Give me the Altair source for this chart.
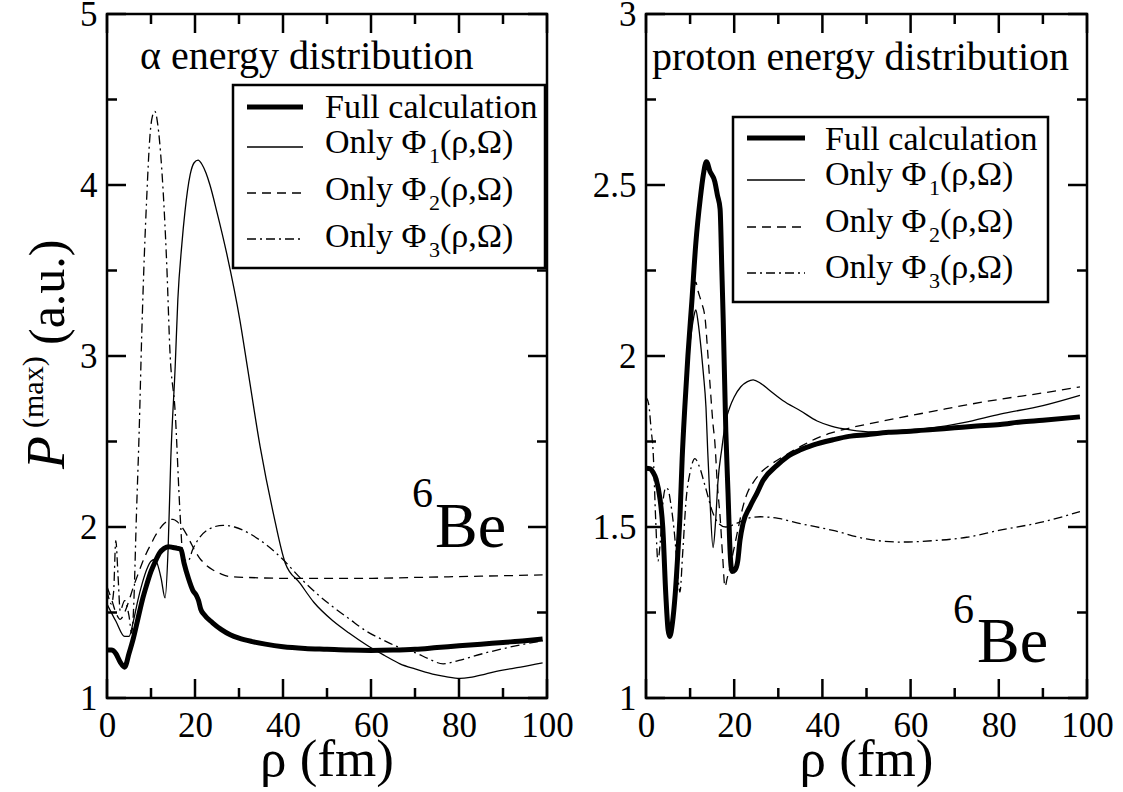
import altair as alt
import pandas as pd

FONT = "Liberation Serif"

# ---- P^(max) versus hyperradius rho (fm): alpha energy distribution ----
ALPHA_FULL_RHO = [0, 1, 2, 3, 4, 5, 6, 7, 8, 9, 10, 11, 12, 13, 14, 15, 16, 16.8, 17.5, 18.5,
                  19.5, 20.3, 20.8, 21.3, 22, 24, 26, 28, 30, 33, 36, 40, 45, 50, 55, 60, 65,
                  70, 75, 80, 85, 90, 95, 99]
ALPHA_FULL_P = [1.28, 1.28, 1.26, 1.21, 1.18, 1.26, 1.35, 1.46, 1.57, 1.66, 1.74, 1.80, 1.85,
                1.875, 1.885, 1.88, 1.875, 1.87, 1.79, 1.70, 1.63, 1.60, 1.57, 1.52, 1.49,
                1.44, 1.40, 1.37, 1.35, 1.33, 1.315, 1.30, 1.29, 1.285, 1.28, 1.278, 1.28,
                1.285, 1.295, 1.305, 1.315, 1.325, 1.335, 1.345]

ALPHA_PHI1_RHO = [0, 2, 4, 5, 6, 7, 8, 9, 10, 10.8, 11.5, 12.3, 13.2, 13.9, 14.5, 15.5, 16.1,
                  17, 17.7, 18.9, 19.8, 20.7, 21.6, 22.5, 23.4, 25, 27.2, 30.2, 32, 34.8, 37.8,
                  40.5, 43.9, 47, 51.4, 55, 59, 63, 66.6, 70, 74, 77, 80.2, 82.5, 86, 89.3, 94, 99]
ALPHA_PHI1_P = [1.55, 1.45, 1.36, 1.36, 1.45, 1.57, 1.67, 1.75, 1.80, 1.81, 1.78, 1.70, 1.585,
                1.88, 2.40, 2.94, 3.33, 3.65, 3.84, 4.06, 4.13, 4.145, 4.12, 4.07, 4.00, 3.84,
                3.60, 3.21, 2.92, 2.47, 2.08, 1.79, 1.67, 1.56, 1.45, 1.38, 1.31, 1.25, 1.20,
                1.17, 1.14, 1.125, 1.115, 1.12, 1.14, 1.16, 1.18, 1.205]

ALPHA_PHI2_RHO = [0, 1, 2, 3, 4, 5, 6, 7, 8, 9, 10, 11, 12, 13, 14, 15, 16, 17, 18, 19, 20, 21,
                  22, 24, 26, 28, 32, 40, 50, 60, 70, 80, 90, 99]
ALPHA_PHI2_P = [1.65, 1.58, 1.50, 1.46, 1.50, 1.57, 1.65, 1.72, 1.79, 1.85, 1.90, 1.95, 1.99,
                2.02, 2.04, 2.045, 2.03, 2.00, 1.96, 1.91, 1.86, 1.82, 1.79, 1.75, 1.725, 1.71,
                1.705, 1.70, 1.70, 1.70, 1.705, 1.71, 1.715, 1.72]

ALPHA_PHI3_RHO = [0, 1, 1.5, 2, 2.5, 3, 4, 5, 5.6, 6, 6.7, 7.3, 7.9, 8.5, 9, 9.8, 10.3, 10.9,
                  11.5, 12.4, 13.6, 14.3, 15.5, 16.6, 17.3, 18.4, 19.5, 21.1, 23, 26.4, 29, 32.5,
                  36, 40, 44, 47.7, 51, 55.2, 59, 62.7, 66, 70.5, 73, 76.4, 80, 85.5, 92, 99]
ALPHA_PHI3_P = [1.63, 1.55, 1.62, 1.92, 1.72, 1.51, 1.57, 1.48, 1.38, 1.50, 2.08, 2.55, 3.13,
                3.60, 3.91, 4.30, 4.40, 4.43, 4.36, 4.11, 3.52, 3.03, 2.67, 2.08, 1.82, 1.80,
                1.87, 1.94, 1.985, 2.01, 2.00, 1.96, 1.90, 1.81, 1.70, 1.61, 1.54, 1.46, 1.39,
                1.34, 1.30, 1.26, 1.23, 1.20, 1.22, 1.26, 1.30, 1.335]

# ---- P^(max) versus hyperradius rho (fm): proton energy distribution ----
PROTON_FULL_RHO = [0, 1, 1.6, 2.3, 3.2, 3.8, 4.5, 5.0, 5.4, 6.0, 6.6, 7.3, 7.7, 8.2, 8.8, 9.5,
                   10.4, 11.3, 12.3, 13.0, 13.7, 14.5, 15.6, 16.2, 16.8, 17.2, 17.5, 18.1, 18.6,
                   19.1, 19.5, 20.2, 20.8, 21.3, 22, 23.6, 25.2, 26.5, 29.7, 32, 34.9, 38, 42.4,
                   46, 50, 55, 60, 65, 70, 75, 80.3, 85, 90, 98.4]
PROTON_FULL_P = [1.672, 1.67, 1.66, 1.64, 1.58, 1.50, 1.30, 1.20, 1.18, 1.22, 1.30, 1.44, 1.53,
                 1.70, 1.85, 2.00, 2.16, 2.33, 2.46, 2.53, 2.568, 2.54, 2.51, 2.47, 2.43, 2.25,
                 2.11, 1.78, 1.60, 1.42, 1.37, 1.375, 1.40, 1.46, 1.51, 1.56, 1.60, 1.635, 1.68,
                 1.705, 1.725, 1.74, 1.755, 1.765, 1.77, 1.777, 1.78, 1.785, 1.79, 1.795, 1.80,
                 1.807, 1.812, 1.822]

PROTON_PHI1_RHO = [0, 1.6, 2.3, 3.2, 3.8, 4.5, 5.0, 5.4, 6.0, 6.6, 7.3, 7.7, 8.2, 8.8, 9.5, 10.4,
                   11.0, 11.3, 11.8, 12.5, 13.0, 13.6, 14.0, 14.5, 15.2, 15.8, 16.3, 17.2, 18.1,
                   19.0, 20, 21.5, 23, 24.3, 26, 28, 31, 35, 38.8, 42, 46.3, 51.5, 55, 60, 65,
                   72, 80.3, 90, 98.4]
PROTON_PHI1_P = [1.672, 1.66, 1.63, 1.56, 1.47, 1.30, 1.22, 1.20, 1.24, 1.32, 1.46, 1.55, 1.72,
                 1.86, 1.98, 2.08, 2.125, 2.135, 2.10, 2.02, 1.95, 1.85, 1.72, 1.58, 1.44, 1.52,
                 1.63, 1.73, 1.81, 1.85, 1.88, 1.91, 1.925, 1.93, 1.92, 1.90, 1.87, 1.84, 1.81,
                 1.795, 1.784, 1.778, 1.779, 1.785, 1.79, 1.805, 1.83, 1.855, 1.885]

PROTON_PHI2_RHO = [0, 1.6, 2.3, 3.2, 3.8, 4.5, 5.0, 5.4, 6.0, 6.6, 7.3, 7.7, 8.2, 8.8, 9.5, 10.4,
                   11.0, 11.3, 11.8, 12.5, 13.4, 14.0, 14.5, 15.2, 15.6, 16.2, 16.8, 17.4, 17.9,
                   18.4, 19.0, 20, 21.3, 22, 23, 24.3, 26.5, 28, 31, 35, 38.8, 42, 46.3, 50, 57.6,
                   65, 72.7, 80, 90, 98.4]
PROTON_PHI2_P = [1.672, 1.66, 1.63, 1.57, 1.49, 1.31, 1.22, 1.20, 1.24, 1.32, 1.46, 1.56, 1.73,
                 1.88, 2.02, 2.15, 2.205, 2.216, 2.19, 2.16, 2.11, 2.01, 1.92, 1.80, 1.75, 1.62,
                 1.53, 1.41, 1.325, 1.35, 1.38, 1.44, 1.52, 1.56, 1.60, 1.63, 1.665, 1.68, 1.705,
                 1.735, 1.76, 1.775, 1.79, 1.80, 1.82, 1.838, 1.857, 1.873, 1.892, 1.91]

PROTON_PHI3_RHO = [0, 0.6, 1.2, 1.6, 2.2, 2.7, 3.2, 3.9, 4.5, 5.0, 5.6, 6.6, 7.2, 7.7, 8.3, 9.1,
                   10.0, 11.1, 12.0, 13.4, 15.2, 16.5, 18.1, 19.5, 21.3, 23, 25.9, 30, 35, 42.4,
                   50, 57.6, 65, 72.7, 80, 90, 98.4]
PROTON_PHI3_P = [1.88, 1.86, 1.78, 1.725, 1.52, 1.40, 1.45, 1.58, 1.615, 1.61, 1.57, 1.46, 1.36,
                 1.31, 1.42, 1.58, 1.66, 1.70, 1.68, 1.62, 1.54, 1.51, 1.50, 1.505, 1.515, 1.525,
                 1.53, 1.525, 1.51, 1.49, 1.465, 1.456, 1.46, 1.47, 1.49, 1.515, 1.545]

# ---- text ----
PANEL_TITLES = ["α energy distribution", "proton energy distribution"]
LEGEND_FULL = "Full calculation"
LEGEND_ONLY = "Only Φ"
LEGEND_SUBS = ["1", "2", "3"]
LEGEND_TAIL = "(ρ,Ω)"
NUCLEUS_MASS = "6"
NUCLEUS_SYMBOL = "Be"
X_TITLE = "ρ (fm)"
Y_TITLE = ["P", "(max)", "(a.u.)"]

# ---- tick positions ----
X_MAJOR = [0, 20, 40, 60, 80, 100]
X_MINOR = [10, 30, 50, 70, 90]
ALPHA_Y_MAJOR = [1, 2, 3, 4, 5]
ALPHA_Y_MINOR = [1.5, 2.5, 3.5, 4.5]
PROTON_Y_MAJOR = [1, 1.5, 2, 2.5, 3]
PROTON_Y_MINOR = [1.25, 1.75, 2.25, 2.75]

H = 684
MAJOR_LEN = 19
MINOR_LEN = 10
THICK = 5
THIN = 1.3
DASH = [9, 6]
DASH_DOT = [9, 4, 2, 4]
ONE = pd.DataFrame({"k": [0]})


def x_enc():
    return alt.X("rho:Q", scale=alt.Scale(domain=[0, 100], nice=False, zero=False),
                 axis=alt.Axis(values=X_MAJOR, format="d", title="", ticks=False, tickSize=0,
                               domain=False, grid=False, labelPadding=10, labelFlush=False,
                               labelOverlap=False))


def y_enc(domain, values, fmt):
    return alt.Y("p:Q", scale=alt.Scale(domain=domain, nice=False, zero=False),
                 axis=alt.Axis(values=values, format=fmt, title="", ticks=False, tickSize=0,
                               domain=False, grid=False, labelPadding=10, labelFlush=False,
                               labelOverlap=False))


def curve(rho, p, width, xe, ye, dash=None):
    kw = dict(color="black", strokeWidth=width, interpolate="monotone", clip=True,
              strokeCap="butt", strokeJoin="miter")
    if dash:
        kw["strokeDash"] = dash
    df = pd.DataFrame({"rho": rho, "p": p})
    return alt.Chart(df).mark_line(**kw).encode(x=xe, y=ye)


def tick_layers(width, xe, ye, ymajor, yminor):
    # inward ticks on all four sides of the frame
    layers = []
    for vals, ln in ((X_MAJOR, MAJOR_LEN), (X_MINOR, MINOR_LEN)):
        df = pd.DataFrame({"rho": vals})
        layers.append(alt.Chart(df).mark_rule(color="black", strokeWidth=2.5)
                      .encode(x=xe, y=alt.value(H), y2=alt.value(H - ln)))
        layers.append(alt.Chart(df).mark_rule(color="black", strokeWidth=2.5)
                      .encode(x=xe, y=alt.value(0), y2=alt.value(ln)))
    for vals, ln in ((ymajor, MAJOR_LEN), (yminor, MINOR_LEN)):
        df = pd.DataFrame({"p": vals})
        layers.append(alt.Chart(df).mark_rule(color="black", strokeWidth=2.5)
                      .encode(y=ye, x=alt.value(0), x2=alt.value(ln)))
        layers.append(alt.Chart(df).mark_rule(color="black", strokeWidth=2.5)
                      .encode(y=ye, x=alt.value(width), x2=alt.value(width - ln)))
    return layers


def label(text, x, y, size, align="left", angle=0, style="normal"):
    kw = dict(text=text, font=FONT, fontSize=size, align=align, baseline="alphabetic",
              color="black", fontStyle=style)
    if angle:
        kw["angle"] = angle
    return alt.Chart(ONE).mark_text(**kw).encode(x=alt.value(x), y=alt.value(y))


def legend_layers(box, sample_x, sample_ys, text_x, baselines):
    x0, x1, y0, y1 = box
    layers = [alt.Chart(ONE).mark_rect(fill="white", stroke="black", strokeWidth=2.5)
              .encode(x=alt.value(x0), x2=alt.value(x1), y=alt.value(y0), y2=alt.value(y1))]
    styles = [(THICK, None), (THIN, None), (THIN, DASH), (THIN, DASH_DOT)]
    for (w, d), sy in zip(styles, sample_ys):
        kw = dict(color="black", strokeWidth=w, strokeCap="butt")
        if d:
            kw["strokeDash"] = d
        layers.append(alt.Chart(ONE).mark_rule(**kw).encode(
            x=alt.value(sample_x[0]), x2=alt.value(sample_x[1]), y=alt.value(sy)))
    layers.append(label(LEGEND_FULL, text_x, baselines[0], 34))
    for sub, b in zip(LEGEND_SUBS, baselines[1:]):
        layers.append(label(LEGEND_ONLY, text_x, b, 34))
        layers.append(label(sub, text_x + 104, b + 10, 22))
        layers.append(label(LEGEND_TAIL, text_x + 115, b, 34))
    return layers


# ---- left panel: alpha ----
WL = 440
xl = x_enc()
yl = y_enc([1, 5], ALPHA_Y_MAJOR, "d")
left_layers = [
    curve(ALPHA_PHI3_RHO, ALPHA_PHI3_P, THIN, xl, yl, DASH_DOT),
    curve(ALPHA_PHI2_RHO, ALPHA_PHI2_P, THIN, xl, yl, DASH),
    curve(ALPHA_PHI1_RHO, ALPHA_PHI1_P, THIN, xl, yl),
    curve(ALPHA_FULL_RHO, ALPHA_FULL_P, THICK, xl, yl),
]
left_layers += tick_layers(WL, xl, yl, ALPHA_Y_MAJOR, ALPHA_Y_MINOR)
left_layers += legend_layers((126, 438, 71, 254), (140, 196), (93, 133, 179, 225), 218,
                             (104, 139, 186, 233))
left_layers += [
    label(PANEL_TITLES[0], 33, 55, 40),
    label(NUCLEUS_MASS, 305, 493, 42),
    label(NUCLEUS_SYMBOL, 328, 533, 64),
    label(X_TITLE, WL / 2, 762, 53, align="center"),
    label(Y_TITLE[0], -43, 455, 54, angle=270, style="italic"),
    label(Y_TITLE[1], -64, 414, 30, angle=270),
    label(Y_TITLE[2], -43, 331, 50, angle=270),
]
left = alt.layer(*left_layers).properties(width=WL, height=H)

# ---- right panel: proton ----
WR = 441
xr = x_enc()
yr = y_enc([1, 3], PROTON_Y_MAJOR, ".1~f")
right_layers = [
    curve(PROTON_PHI3_RHO, PROTON_PHI3_P, THIN, xr, yr, DASH_DOT),
    curve(PROTON_PHI2_RHO, PROTON_PHI2_P, THIN, xr, yr, DASH),
    curve(PROTON_PHI1_RHO, PROTON_PHI1_P, THIN, xr, yr),
    curve(PROTON_FULL_RHO, PROTON_FULL_P, THICK, xr, yr),
]
right_layers += tick_layers(WR, xr, yr, PROTON_Y_MAJOR, PROTON_Y_MINOR)
right_layers += legend_layers((87, 402, 103, 288), (101, 159), (124, 166, 213, 259), 179,
                              (136, 171, 218, 264))
right_layers += [
    label(PANEL_TITLES[1], 6, 56, 40),
    label(NUCLEUS_MASS, 307, 609, 42),
    label(NUCLEUS_SYMBOL, 331, 648, 64),
    label(X_TITLE, WR / 2, 762, 53, align="center"),
]
right = alt.layer(*right_layers).properties(width=WR, height=H)

chart = (
    alt.hconcat(left, right, spacing=99, bounds="flush")
    .properties(autosize=alt.AutoSizeParams(type="none"),
                padding={"left": 107, "top": 14, "right": 1016, "bottom": 778})
    .configure_view(stroke="black", strokeWidth=2.5)
    .configure_axis(labelFont=FONT, labelFontSize=35, labelColor="black")
)

chart.save("out.html", embed_options={"renderer": "svg", "actions": False})
